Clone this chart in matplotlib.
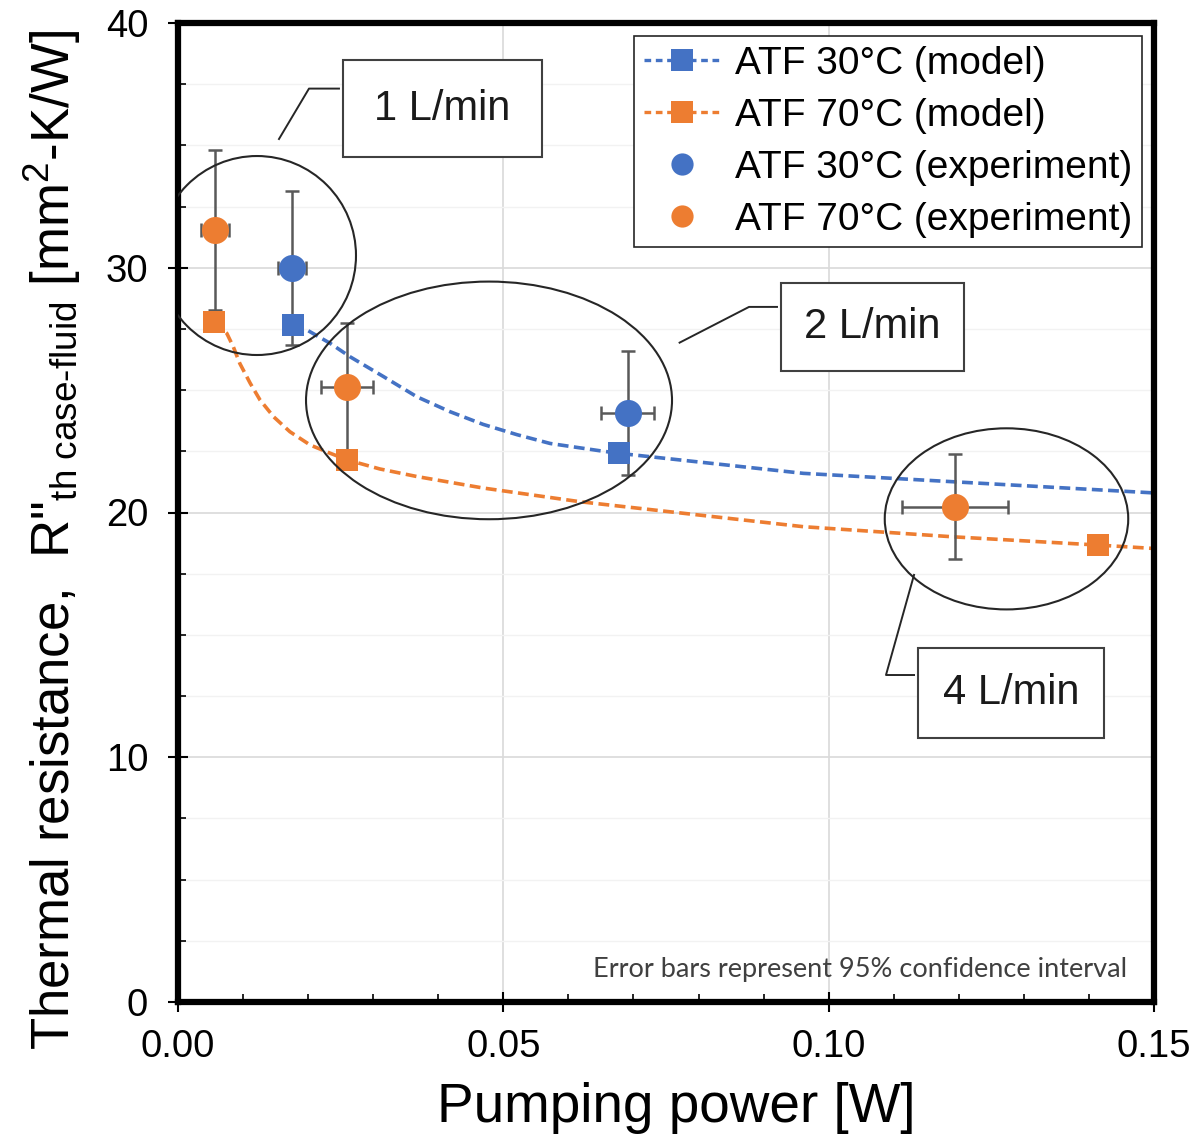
import matplotlib
matplotlib.use("Agg")
import matplotlib.pyplot as plt
from matplotlib.lines import Line2D
from matplotlib.patches import Ellipse, Rectangle
from matplotlib.ticker import MultipleLocator, FormatStrFormatter

plt.rcParams['font.family'] = ['Liberation Sans', 'DejaVu Sans']
plt.rcParams['mathtext.fontset'] = 'custom'
plt.rcParams['mathtext.rm'] = 'Liberation Sans'
plt.rcParams['mathtext.it'] = 'Liberation Sans:italic'

BLUE = '#4472C4'
ORANGE = '#ED7D31'
BAR = '#595959'

# model points (squares)
model30_x = [0.0177, 0.0677]
model30_y = [27.66, 22.42]
model70_x = [0.0055, 0.0260, 0.1414]
model70_y = [27.78, 22.15, 18.67]

# model curves
curve30_x = [0.0177, 0.0198, 0.0234, 0.0264, 0.0316, 0.0367, 0.0418, 0.0469,
             0.0521, 0.0572, 0.0649, 0.0677, 0.0961, 0.1189, 0.150]
curve30_y = [27.66, 27.46, 26.91, 26.37, 25.55, 24.73, 24.12, 23.60,
             23.18, 22.82, 22.52, 22.42, 21.60, 21.26, 20.80]
curve70_x = [0.0055, 0.0075, 0.0085, 0.0095, 0.0111, 0.0126, 0.0147, 0.0172,
             0.0203, 0.0234, 0.0260, 0.0310, 0.0367, 0.0469, 0.0618, 0.0961,
             0.1189, 0.1414, 0.150]
curve70_y = [27.78, 27.32, 26.77, 26.09, 25.28, 24.60, 23.91, 23.30,
             22.76, 22.42, 22.15, 21.78, 21.47, 21.00, 20.44, 19.42,
             19.01, 18.67, 18.53]

# experiments with 95% CI
exp30_x = [0.0175, 0.0691]
exp30_y = [29.99, 24.07]
exp30_xerr = [0.0021, 0.0041]
exp30_yerr = [3.15, 2.53]
exp70_x = [0.0057, 0.0260, 0.1194]
exp70_y = [31.54, 25.13, 20.24]
exp70_xerr = [0.0021, 0.0040, 0.0081]
exp70_yerr = [3.27, 2.61, 2.13]

# flow-rate groups: ellipse (cx, cy, w, h), label box (x0, y0, x1, y1), leader line
groups = ['1 L/min', '2 L/min', '4 L/min']
ellipses = [(0.01214, 30.50, 0.03043, 8.13),
            (0.04780, 24.58, 0.05625, 9.71),
            (0.12733, 19.74, 0.03742, 7.40)]
boxes = [(0.02536, 34.52, 0.05594, 38.49),
         (0.09263, 25.79, 0.12074, 29.38),
         (0.11373, 10.79, 0.14232, 14.46)]
leaders = [([0.02474, 0.02013, 0.01552], [37.32, 37.32, 35.26]),
           ([0.09206, 0.08776, 0.07709], [28.40, 28.40, 26.94]),
           ([0.11312, 0.10881, 0.11312], [13.36, 13.36, 17.45])]

fig = plt.figure(figsize=(12.03, 11.40), dpi=100)
ax = fig.add_axes([178/1203, (1140-1002)/1140, (1154-178)/1203, (1002-23)/1140])

ax.set_xlim(0, 0.15)
ax.set_ylim(0, 40)
ax.xaxis.set_major_locator(MultipleLocator(0.05))
ax.xaxis.set_minor_locator(MultipleLocator(0.01))
ax.yaxis.set_major_locator(MultipleLocator(10))
ax.yaxis.set_minor_locator(MultipleLocator(2.5))
ax.xaxis.set_major_formatter(FormatStrFormatter('%.2f'))

ax.grid(True, which='major', color='#d9d9d9', lw=1.2, zorder=0)
ax.grid(True, which='minor', axis='y', color='#f2f2f2', lw=1.0, zorder=0)
ax.set_axisbelow(True)

for s in ax.spines.values():
    s.set_linewidth(4.5)
ax.tick_params(which='major', direction='inout', length=15, width=1.5, labelsize=27.5)
ax.tick_params(axis='x', which='major', pad=12)
ax.tick_params(axis='y', which='major', pad=14)
ax.tick_params(which='minor', direction='in', length=6, width=1.2)

ax.plot(curve30_x, curve30_y, color=BLUE, lw=2.6, ls=(0, (3.0, 1.5)), zorder=2)
ax.plot(curve70_x, curve70_y, color=ORANGE, lw=2.6, ls=(0, (3.0, 1.5)), zorder=2)

ax.errorbar(exp30_x, exp30_y, xerr=exp30_xerr, yerr=exp30_yerr, fmt='none',
            ecolor=BAR, elinewidth=1.8, capsize=4.7, capthick=1.8, zorder=3)
ax.errorbar(exp70_x, exp70_y, xerr=exp70_xerr, yerr=exp70_yerr, fmt='none',
            ecolor=BAR, elinewidth=1.8, capsize=4.7, capthick=1.8, zorder=3)

ax.plot(model30_x, model30_y, 's', color=BLUE, ms=16.5, mew=0, zorder=4)
ax.plot(model70_x, model70_y, 's', color=ORANGE, ms=16.5, mew=0, zorder=4)
ax.plot(exp30_x, exp30_y, 'o', color=BLUE, ms=19.5, mew=0, zorder=5)
ax.plot(exp70_x, exp70_y, 'o', color=ORANGE, ms=19.5, mew=0, zorder=5)

for lab, (cx, cy, w, h), (x0, y0, x1, y1), (lx, ly) in zip(groups, ellipses, boxes, leaders):
    ax.add_patch(Ellipse((cx, cy), w, h, fill=False, ec='#262626', lw=1.5, zorder=6))
    ax.add_patch(Rectangle((x0, y0), x1 - x0, y1 - y0, fc='white', ec='#404040',
                           lw=1.5, zorder=6))
    ax.text((x0 + x1) / 2, (y0 + y1) / 2, lab, fontsize=30, ha='center',
            va='center', color='#1a1a1a', zorder=7)
    ax.plot(lx, ly, color='#262626', lw=1.4, zorder=6)

handles = [
    Line2D([], [], color=BLUE, ls=(0, (2.0, 1.4)), lw=2.4, marker='s', ms=16, mew=0),
    Line2D([], [], color=ORANGE, ls=(0, (2.0, 1.4)), lw=2.4, marker='s', ms=16, mew=0),
    Line2D([], [], ls='none', color=BLUE, marker='o', ms=16, mew=0),
    Line2D([], [], ls='none', color=ORANGE, marker='o', ms=16, mew=0),
]
labels = ['ATF 30°C (model)', 'ATF 70°C (model)',
          'ATF 30°C (experiment)', 'ATF 70°C (experiment)']
leg = ax.legend(handles, labels, loc='upper right',
                bbox_to_anchor=((1142-178)/976, (1002-36)/979),
                borderaxespad=0, fontsize=28, frameon=True, fancybox=False,
                framealpha=1, edgecolor='#262626', handlelength=1.95,
                handletextpad=0.4, labelspacing=0.41, borderpad=0.25)
leg.get_frame().set_linewidth(1.2)
leg.set_zorder(8)

ax.text(0.9723, 0.0255, 'Error bars represent 95% confidence interval',
        transform=ax.transAxes, ha='right', va='baseline', fontsize=19.5,
        color='#404040', family=['Lato', 'DejaVu Sans'])

ax.set_xlabel('Pumping power [W]', fontsize=39.5)
ax.xaxis.set_label_coords(0.511, -0.082)
ax.xaxis.label.set_va('top')
ax.set_ylabel('Thermal resistance,  R"$_{\\mathregular{th\\ case\u2010fluid}}$ [mm$^{\\mathregular{2}}$-K/W]',
              fontsize=38)
ax.yaxis.set_label_coords(-0.097, 0.472)

fig.savefig('out.png', dpi=100)
